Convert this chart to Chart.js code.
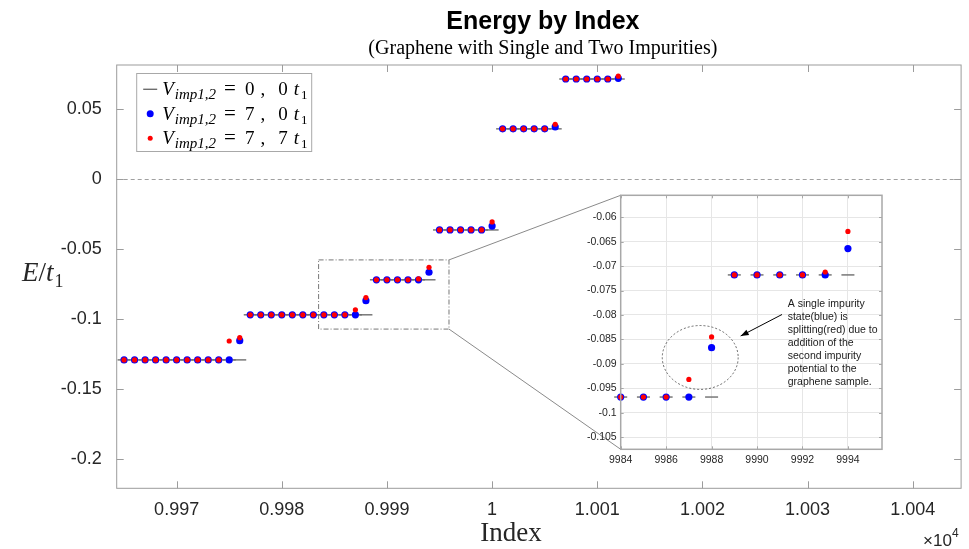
<!DOCTYPE html>
<html>
<head>
<meta charset="utf-8">
<title>Energy by Index</title>
<script src="https://cdn.jsdelivr.net/npm/chart.js@4.4.1/dist/chart.umd.min.js"></script>
<style>
  html, body { margin: 0; padding: 0; background: #fff; }
  #wrap { position: relative; width: 969px; height: 549px; }
  #mainChart { position: absolute; left: 0; top: 0; }
  #insetChart { position: absolute; left: 560px; top: 185px; }
</style>
</head>
<body>
<div id="wrap">
  <canvas id="mainChart" width="969" height="549"></canvas>
  <canvas id="insetChart" width="330" height="290"></canvas>
</div>
<script>
// ---- data ------------------------------------------------------------
// eigenstate index around the Dirac point
const STATE_INDEX = [
  9965, 9966, 9967, 9968, 9969, 9970, 9971, 9972, 9973, 9974, 9975, 9976,
  9977, 9978, 9979, 9980, 9981, 9982, 9983, 9984, 9985, 9986, 9987, 9988,
  9989, 9990, 9991, 9992, 9993, 9994,
  9995, 9996, 9997, 9998, 9999, 10000,
  10001, 10002, 10003, 10004, 10005, 10006,
  10007, 10008, 10009, 10010, 10011, 10012
];

// E/t1, pristine graphene (V_imp1,2 = 0, 0)
const E_PRISTINE = [
  -0.1290, -0.1290, -0.1290, -0.1290, -0.1290, -0.1290, -0.1290, -0.1290, -0.1290, -0.1290, -0.1290, -0.1290,
  -0.0968, -0.0968, -0.0968, -0.0968, -0.0968, -0.0968, -0.0968, -0.0968, -0.0968, -0.0968, -0.0968, -0.0968,
  -0.0718, -0.0718, -0.0718, -0.0718, -0.0718, -0.0718,
  -0.0362, -0.0362, -0.0362, -0.0362, -0.0362, -0.0362,
  0.0360, 0.0360, 0.0360, 0.0360, 0.0360, 0.0360,
  0.0716, 0.0716, 0.0716, 0.0716, 0.0716, 0.0716
];

// E/t1, single impurity (V_imp1,2 = 7, 0)
const E_SINGLE = [
  -0.1290, -0.1290, -0.1290, -0.1290, -0.1290, -0.1290, -0.1290, -0.1290, -0.1290, -0.1290, -0.1290, -0.1153,
  -0.0968, -0.0968, -0.0968, -0.0968, -0.0968, -0.0968, -0.0968, -0.0968, -0.0968, -0.0968, -0.0968, -0.0867,
  -0.0718, -0.0718, -0.0718, -0.0718, -0.0718, -0.0664,
  -0.0362, -0.0362, -0.0362, -0.0362, -0.0362, -0.0334,
  0.0360, 0.0360, 0.0360, 0.0360, 0.0360, 0.0374,
  0.0716, 0.0716, 0.0716, 0.0716, 0.0716, 0.0721
];

// E/t1, two impurities (V_imp1,2 = 7, 7)
const E_DOUBLE = [
  -0.1290, -0.1290, -0.1290, -0.1290, -0.1290, -0.1290, -0.1290, -0.1290, -0.1290, -0.1290, -0.1155, -0.1131,
  -0.0968, -0.0968, -0.0968, -0.0968, -0.0968, -0.0968, -0.0968, -0.0968, -0.0968, -0.0968, -0.0932, -0.0845,
  -0.0718, -0.0718, -0.0718, -0.0718, -0.0712, -0.0629,
  -0.0362, -0.0362, -0.0362, -0.0362, -0.0362, -0.0305,
  0.0360, 0.0360, 0.0360, 0.0360, 0.0360, 0.0393,
  0.0716, 0.0716, 0.0716, 0.0716, 0.0716, 0.0736
];

// impurity potentials (units of t1) for the legend
const IMP_POTENTIALS = [[0, 0], [7, 0], [7, 7]];

// tick values
const MAIN_X_TICKS = [9970, 9980, 9990, 10000, 10010, 10020, 10030, 10040];
const MAIN_Y_TICKS = [-0.2, -0.15, -0.1, -0.05, 0, 0.05];
const INSET_X_TICKS = [9984, 9986, 9988, 9990, 9992, 9994];
const INSET_Y_TICKS = [-0.105, -0.1, -0.095, -0.09, -0.085, -0.08, -0.075, -0.07, -0.065, -0.06];

const NOTE_LINES = [
  'A single impurity',
  'state(blue) is',
  'splitting(red) due to',
  'addition of the',
  'second impurity',
  'potential to the',
  'graphene sample.'
];

// ---- axes / annotation setup -----------------------------------------
const MAIN_X_RANGE = [9964.3, 10044.6];
const MAIN_Y_RANGE = [-0.2207, 0.0816];
const INSET_X_RANGE = [9984, 9995.5];
const INSET_Y_RANGE = [-0.1075, -0.0555];
const ZOOM_BOX = { x: [9983.5, 9995.9], y: [-0.107, -0.0576] };
const SPLIT_RING = { x: 9987.5, y: -0.0887, rx: 1.67, ry: 0.00654 };
const NOTE_ARROW = { from: [9991.1, -0.0799], to: [9989.28, -0.0843] };
const NOTE_POS = { x: 9991.35, y: -0.0777, lineHeight: 13 };

const SANS = 'Liberation Sans, Arial, sans-serif';
const SERIF = 'Liberation Serif, Times New Roman, serif';
const TEXT_COLOR = '#262626';

const fmt = v => String(parseFloat(v.toFixed(4)));
const toPoints = (xs, ys) => xs.map((x, i) => ({ x: x, y: ys[i] }));
const inRange = (xs, ys, r) => toPoints(xs, ys).filter(p => p.x >= r[0] && p.x <= r[1]);

// draws a row of text pieces (italic symbols, subscripts) left to right
function drawRuns(ctx, x, y, runs) {
  ctx.textBaseline = 'alphabetic';
  ctx.textAlign = 'left';
  runs.forEach(r => {
    x += r.gap || 0;
    ctx.font = r.font;
    ctx.fillText(r.text, x, y + (r.dy || 0));
    x += ctx.measureText(r.text).width;
  });
}

// box around the plot area with inward ticks on all four sides
const boxTicks = {
  id: 'boxTicks',
  afterDraw(chart, args, opts) {
    const { ctx, chartArea: a, scales } = chart;
    ctx.save();
    ctx.strokeStyle = opts.color;
    ctx.lineWidth = opts.width;
    ctx.strokeRect(a.left, a.top, a.right - a.left, a.bottom - a.top);
    ctx.lineWidth = 1;
    ctx.beginPath();
    scales.x.ticks.forEach(t => {
      const px = Math.round(scales.x.getPixelForValue(t.value)) + 0.5;
      ctx.moveTo(px, a.bottom); ctx.lineTo(px, a.bottom - opts.len);
      ctx.moveTo(px, a.top); ctx.lineTo(px, a.top + opts.len);
    });
    scales.y.ticks.forEach(t => {
      const py = Math.round(scales.y.getPixelForValue(t.value)) + 0.5;
      ctx.moveTo(a.left, py); ctx.lineTo(a.left + opts.len, py);
      ctx.moveTo(a.right, py); ctx.lineTo(a.right - opts.len, py);
    });
    ctx.stroke();
    ctx.restore();
  }
};

const whiteArea = {
  id: 'whiteArea',
  beforeDraw(chart) {
    const { ctx, chartArea: a } = chart;
    ctx.save();
    ctx.fillStyle = '#fff';
    ctx.fillRect(a.left, a.top, a.right - a.left, a.bottom - a.top);
    ctx.restore();
  }
};

function seriesDatasets(pointsFor) {
  return [
    {
      label: 'pristine',
      data: pointsFor(E_PRISTINE),
      pointStyle: 'line',
      pointRadius: 6.5,
      pointBorderColor: '#6e6e6e',
      pointBorderWidth: 1.4,
      order: 3,
      clip: false
    },
    {
      label: 'single',
      data: pointsFor(E_SINGLE),
      pointRadius: 3.6,
      pointBackgroundColor: '#0000ff',
      pointBorderWidth: 0,
      order: 2,
      clip: false
    },
    {
      label: 'double',
      data: pointsFor(E_DOUBLE),
      pointRadius: 2.6,
      pointBackgroundColor: '#ff0000',
      pointBorderWidth: 0,
      order: 1,
      clip: false
    }
  ];
}

// ---- inset: zoom on the split impurity state -------------------------
const insetNotes = {
  id: 'insetNotes',
  afterDraw(chart) {
    const { ctx, scales: { x, y } } = chart;
    ctx.save();

    // dashed ring around the split pair
    const cx = x.getPixelForValue(SPLIT_RING.x);
    const cy = y.getPixelForValue(SPLIT_RING.y);
    const rx = Math.abs(x.getPixelForValue(SPLIT_RING.x + SPLIT_RING.rx) - cx);
    const ry = Math.abs(y.getPixelForValue(SPLIT_RING.y + SPLIT_RING.ry) - cy);
    ctx.strokeStyle = '#444';
    ctx.lineWidth = 0.8;
    ctx.setLineDash([2, 2]);
    ctx.beginPath();
    ctx.ellipse(cx, cy, rx, ry, 0, 0, Math.PI * 2);
    ctx.stroke();
    ctx.setLineDash([]);

    // arrow from the note to the ring
    const x0 = x.getPixelForValue(NOTE_ARROW.from[0]);
    const y0 = y.getPixelForValue(NOTE_ARROW.from[1]);
    const x1 = x.getPixelForValue(NOTE_ARROW.to[0]);
    const y1 = y.getPixelForValue(NOTE_ARROW.to[1]);
    const ang = Math.atan2(y1 - y0, x1 - x0);
    ctx.strokeStyle = '#000';
    ctx.fillStyle = '#000';
    ctx.lineWidth = 1;
    ctx.beginPath();
    ctx.moveTo(x0, y0);
    ctx.lineTo(x1, y1);
    ctx.stroke();
    ctx.beginPath();
    ctx.moveTo(x1, y1);
    ctx.lineTo(x1 - 8 * Math.cos(ang) + 3 * Math.sin(ang), y1 - 8 * Math.sin(ang) - 3 * Math.cos(ang));
    ctx.lineTo(x1 - 8 * Math.cos(ang) - 3 * Math.sin(ang), y1 - 8 * Math.sin(ang) + 3 * Math.cos(ang));
    ctx.closePath();
    ctx.fill();

    // note text
    ctx.fillStyle = '#1a1a1a';
    ctx.font = '10.5px ' + SANS;
    ctx.textAlign = 'left';
    ctx.textBaseline = 'middle';
    const tx = x.getPixelForValue(NOTE_POS.x);
    const ty = y.getPixelForValue(NOTE_POS.y);
    NOTE_LINES.forEach((line, i) => ctx.fillText(line, tx, ty + i * NOTE_POS.lineHeight));
    ctx.restore();
  }
};

const insetChart = new Chart(document.getElementById('insetChart'), {
  type: 'scatter',
  data: { datasets: seriesDatasets(ys => inRange(STATE_INDEX, ys, INSET_X_RANGE)) },
  options: {
    responsive: false,
    animation: false,
    events: [],
    layout: { padding: { top: 10, right: 8, left: 0, bottom: 0 } },
    plugins: {
      legend: { display: false },
      tooltip: { enabled: false },
      boxTicks: { color: '#a8a8a8', width: 1.5, len: 3 }
    },
    scales: {
      x: {
        type: 'linear',
        min: INSET_X_RANGE[0],
        max: INSET_X_RANGE[1],
        grid: { color: '#e6e6e6', drawTicks: false },
        border: { display: false },
        afterBuildTicks: s => { s.ticks = INSET_X_TICKS.map(v => ({ value: v })); },
        afterFit: s => { s.height = 25.7; },
        ticks: {
          autoSkip: false, maxRotation: 0, padding: 5,
          color: TEXT_COLOR, font: { family: SANS, size: 10.5 },
          callback: v => String(v)
        }
      },
      y: {
        type: 'linear',
        min: INSET_Y_RANGE[0],
        max: INSET_Y_RANGE[1],
        grid: { color: '#e6e6e6', drawTicks: false },
        border: { display: false },
        afterBuildTicks: s => { s.ticks = INSET_Y_TICKS.map(v => ({ value: v })); },
        afterFit: s => { s.width = 60.7; },
        ticks: {
          autoSkip: false, padding: 4,
          color: TEXT_COLOR, font: { family: SANS, size: 10.5 },
          callback: v => fmt(v)
        }
      }
    }
  },
  plugins: [whiteArea, boxTicks, insetNotes]
});

// ---- main figure decorations -----------------------------------------
const mainDecor = {
  id: 'mainDecor',
  beforeDatasetsDraw(chart) {
    const { ctx, chartArea: a, scales: { y } } = chart;
    const y0 = Math.round(y.getPixelForValue(0)) + 0.5;
    ctx.save();
    ctx.strokeStyle = '#a0a0a0';
    ctx.lineWidth = 1;
    ctx.setLineDash([4, 3]);
    ctx.beginPath();
    ctx.moveTo(a.left, y0);
    ctx.lineTo(a.right, y0);
    ctx.stroke();
    ctx.restore();
  },
  afterDatasetsDraw(chart) {
    const { ctx, scales: { x, y } } = chart;
    const l = x.getPixelForValue(ZOOM_BOX.x[0]);
    const r = x.getPixelForValue(ZOOM_BOX.x[1]);
    const t = y.getPixelForValue(ZOOM_BOX.y[1]);
    const b = y.getPixelForValue(ZOOM_BOX.y[0]);
    ctx.save();
    // zoom window
    ctx.strokeStyle = '#777';
    ctx.lineWidth = 1;
    ctx.setLineDash([5, 2, 1, 2]);
    ctx.strokeRect(l, t, r - l, b - t);
    ctx.setLineDash([]);
    // connectors to the inset corners
    const canvas = insetChart.canvas;
    const ia = insetChart.chartArea;
    const ix = canvas.offsetLeft + ia.left;
    const iTop = canvas.offsetTop + ia.top;
    const iBot = canvas.offsetTop + ia.bottom;
    ctx.strokeStyle = '#8a8a8a';
    ctx.beginPath();
    ctx.moveTo(r, t); ctx.lineTo(ix, iTop);
    ctx.moveTo(r, b); ctx.lineTo(ix, iBot);
    ctx.stroke();
    ctx.restore();
  },
  afterDraw(chart) {
    const { ctx, chartArea: a } = chart;
    const mid = (a.left + a.right) / 2 + 4;
    ctx.save();
    ctx.fillStyle = '#000';
    ctx.textAlign = 'center';
    ctx.textBaseline = 'alphabetic';
    ctx.font = 'bold 25px ' + SANS;
    ctx.fillText('Energy by Index', mid, 29);
    ctx.font = '20px ' + SERIF;
    ctx.fillText('(Graphene with Single and Two Impurities)', mid, 54);

    // axis labels
    ctx.fillStyle = TEXT_COLOR;
    ctx.font = '27px ' + SERIF;
    ctx.fillText('Index', 511, 541);
    drawRuns(ctx, 22, 281, [
      { text: 'E', font: 'italic 27px ' + SERIF },
      { text: '/', font: '27px ' + SERIF },
      { text: 't', font: 'italic 27px ' + SERIF },
      { text: '1', font: '18px ' + SERIF, dy: 6, gap: 1 }
    ]);
    drawRuns(ctx, a.right - 38, 546, [
      { text: '\u00d710', font: '17px ' + SANS },
      { text: '4', font: '12px ' + SANS, dy: -9 }
    ]);

    // legend
    const lx = a.left + 19.5, ly = a.top + 8;
    ctx.fillStyle = '#fff';
    ctx.fillRect(lx, ly, 175, 78);
    ctx.strokeStyle = '#a8a8a8';
    ctx.lineWidth = 1;
    ctx.strokeRect(lx + 0.5, ly + 0.5, 175, 78);
    const rowH = 24.5;
    IMP_POTENTIALS.forEach((v, i) => {
      const base = ly + 22 + i * rowH;
      const sy = base - 5.7;
      if (i === 0) {
        ctx.strokeStyle = '#6e6e6e';
        ctx.lineWidth = 1.4;
        ctx.beginPath();
        ctx.moveTo(lx + 7, sy); ctx.lineTo(lx + 21, sy);
        ctx.stroke();
      } else {
        ctx.fillStyle = i === 1 ? '#0000ff' : '#ff0000';
        ctx.beginPath();
        ctx.arc(lx + 14, sy, i === 1 ? 3.5 : 2.5, 0, Math.PI * 2);
        ctx.fill();
      }
      ctx.fillStyle = '#000';
      drawRuns(ctx, lx + 26, base, [
        { text: 'V', font: 'italic 19px ' + SERIF },
        { text: 'imp1,2', font: 'italic 15px ' + SERIF, dy: 4, gap: 1 },
        { text: '=', font: '21px ' + SERIF, gap: 8 },
        { text: String(v[0]), font: '19px ' + SERIF, gap: 9 },
        { text: ',', font: '19px ' + SERIF, gap: 6 },
        { text: String(v[1]), font: '19px ' + SERIF, gap: 13 },
        { text: 't', font: 'italic 19px ' + SERIF, gap: 6 },
        { text: '1', font: '13px ' + SERIF, dy: 4, gap: 2 }
      ]);
    });
    ctx.restore();
  }
};

const mainChart = new Chart(document.getElementById('mainChart'), {
  type: 'scatter',
  data: { datasets: seriesDatasets(ys => toPoints(STATE_INDEX, ys)) },
  options: {
    responsive: false,
    animation: false,
    events: [],
    layout: { padding: { top: 65, right: 7, left: 0, bottom: 0 } },
    plugins: {
      legend: { display: false },
      tooltip: { enabled: false },
      boxTicks: { color: '#9c9c9c', width: 1, len: 7 }
    },
    scales: {
      x: {
        type: 'linear',
        min: MAIN_X_RANGE[0],
        max: MAIN_X_RANGE[1],
        grid: { display: false },
        border: { display: false },
        afterBuildTicks: s => { s.ticks = MAIN_X_TICKS.map(v => ({ value: v })); },
        afterFit: s => { s.height = 60.7; },
        ticks: {
          autoSkip: false, maxRotation: 0, padding: 3,
          color: TEXT_COLOR, font: { family: SANS, size: 18 },
          callback: v => fmt(v / 10000)
        }
      },
      y: {
        type: 'linear',
        min: MAIN_Y_RANGE[0],
        max: MAIN_Y_RANGE[1],
        grid: { display: false },
        border: { display: false },
        afterBuildTicks: s => { s.ticks = MAIN_Y_TICKS.map(v => ({ value: v })); },
        afterFit: s => { s.width = 116.7; },
        ticks: {
          autoSkip: false, padding: 7,
          color: TEXT_COLOR, font: { family: SANS, size: 18 },
          callback: v => fmt(v)
        }
      }
    }
  },
  plugins: [boxTicks, mainDecor]
});
</script>
</body>
</html>
